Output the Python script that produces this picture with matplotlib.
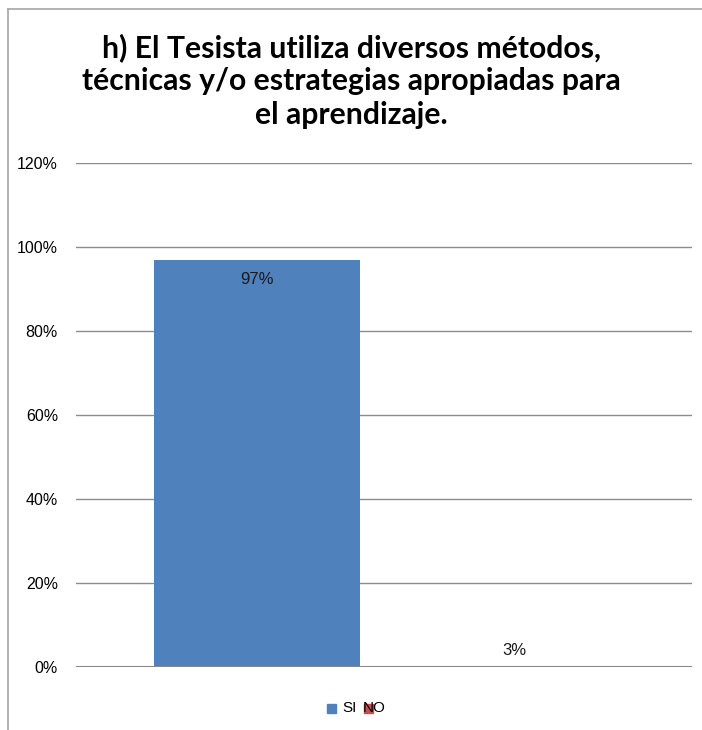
import matplotlib.pyplot as plt
from matplotlib.patches import Rectangle
from matplotlib.lines import Line2D

# Datos
series = ['SI', 'NO']
valores = [0.97, 0.03]
colores = ['#4F81BD', '#C0504D']
ticks_y = [0, 0.2, 0.4, 0.6, 0.8, 1.0, 1.2]
etiquetas_y = ['0%', '20%', '40%', '60%', '80%', '100%', '120%']
titulo = 'h) El Tesista utiliza diversos métodos,\ntécnicas y/o estrategias apropiadas para\nel aprendizaje.'

W, H = 702, 730
fig = plt.figure(figsize=(W / 100, H / 100), dpi=100)
fig.patch.set_facecolor('white')

# Marco del gráfico
fig.add_artist(Line2D([8 / W, 1], [1 - 9 / H, 1 - 9 / H], color='#A6A6A6', lw=1.2))
fig.add_artist(Line2D([8 / W, 8 / W], [0, 1 - 9 / H], color='#A6A6A6', lw=1.2))

ax = fig.add_axes([76 / W, 1 - 667 / H, (692 - 76) / W, (667 - 163) / H])
ax.set_ylim(0, 1.2)
ax.set_xlim(-0.704, 1.693)

# Líneas de división
for t in ticks_y[1:]:
    ax.axhline(t, color='#8C8C8C', lw=1.0, zorder=1)
ax.axhline(0, color='#878787', lw=2.2, zorder=3)

# Barras (la de NO sin relleno visible)
x = list(range(len(series)))
barras = ax.bar(x, valores, width=0.8, color=[colores[0], 'white'], zorder=2)

for xi, v in zip(x, valores):
    txt = f'{round(v * 100)}%'
    if v > 0.1:
        ax.annotate(txt, (xi, v), xytext=(0, -20), textcoords='offset pixels',
                    ha='center', va='center', fontsize=12, family='Liberation Sans',
                    color='#1A1A1A')
    else:
        ax.annotate(txt, (xi, v), xytext=(0, 4), textcoords='offset pixels',
                    ha='center', va='center', fontsize=12, family='Liberation Sans',
                    color='#1A1A1A')

ax.set_yticks(ticks_y)
ax.set_yticklabels(etiquetas_y, family='Liberation Sans', fontsize=11.5)
ax.tick_params(axis='y', length=0, pad=13)
ax.set_xticks([])
for s in ax.spines.values():
    s.set_visible(False)

# Título
fig.text(0.5, 1 - 81 / H, titulo, ha='center', va='center', fontsize=21.7,
         fontweight='bold', family='Lato', linespacing=1.22, color='black')

# Leyenda
fig.add_artist(Rectangle((327 / W, 1 - 713 / H), 9 / W, 9 / H,
                         transform=fig.transFigure, color=colores[0]))
fig.text(342 / W, 1 - 708 / H, series[0], ha='left', va='center', fontsize=11,
         family='Liberation Sans')
fig.add_artist(Rectangle((364 / W, 1 - 713 / H), 9 / W, 9 / H,
                         transform=fig.transFigure, color=colores[1]))
fig.text(363 / W, 1 - 708 / H, series[1], ha='left', va='center', fontsize=11,
         family='Liberation Sans', zorder=5)

fig.savefig('out.png', dpi=100)
